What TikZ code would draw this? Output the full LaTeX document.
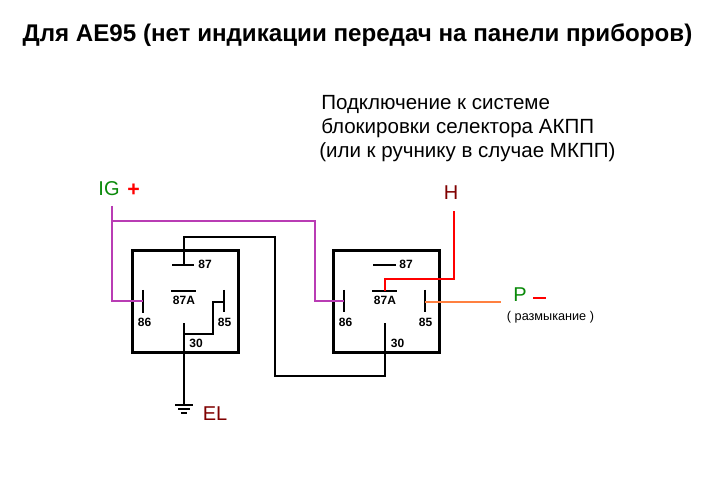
\documentclass[tikz,border=0pt]{standalone}
\usepackage{fontspec}
\setmainfont{Liberation Sans}
\definecolor{wirepurple}{HTML}{B93CB4}
\definecolor{wireorange}{HTML}{FF8040}
\definecolor{labelgreen}{HTML}{0A8A0A}
\definecolor{labelred}{HTML}{800000}
\tikzset{
    relaybox/.style={draw, line width=2.25pt, fill=none, minimum width=79.5pt, minimum height=75.75pt, inner sep=0pt},
    pinbar/.style={line width=1.5pt},
    wire/.style={line width=1.5pt},
    pinlabel/.style={font=\fontsize{9}{9}\selectfont\bfseries, inner sep=0pt},
    biglabel/.style={font=\fontsize{15}{15}\selectfont, inner sep=0pt},
    notelabel/.style={font=\fontsize{15.4}{16}\selectfont, anchor=west, inner sep=0pt}
}
\begin{document}
\begin{tikzpicture}[x=0.75pt, y=-0.75pt]
    \useasboundingbox (0,0) rectangle (728,495);
    \fill[white] (0,0) rectangle (728,495);

    % Title and note
    \node[font=\fontsize{18.1}{18.1}\selectfont\bfseries, inner sep=0pt] (title) at (357.5,35) {Для AE95 (нет индикации передач на панели приборов)};
    \node[notelabel] (noteA) at (321,104) {Подключение к системе};
    \node[notelabel] (noteB) at (321,128) {блокировки селектора АКПП};
    \node[notelabel] (noteC) at (319,152) {(или к ручнику в случае МКПП)};

    % Left relay
    \node[relaybox] (relayL) at (185,301.5) {};
    \node[pinlabel] (labL87) at (205,264.5) {87};
    \node[pinlabel] (labL87A) at (184,300.5) {87A};
    \node[pinlabel] (labL86) at (144.5,322) {86};
    \node[pinlabel] (labL85) at (224.5,322) {85};
    \node[pinlabel] (labL30) at (196,343) {30};
    \coordinate (barL87a) at (172,265);
    \coordinate (barL87b) at (194,265);
    \coordinate (barL87Aa) at (171,291);
    \coordinate (barL87Ab) at (196,291);
    \coordinate (pinL86a) at (143,290);
    \coordinate (pinL86b) at (143,313);
    \coordinate (pinL85a) at (224,290);
    \coordinate (pinL85b) at (224,312);
    \coordinate (pinL87) at (184,265);
    \coordinate (pinL30) at (184,323);
    \draw[pinbar] (barL87a) -- (barL87b);
    \draw[pinbar] (barL87Aa) -- (barL87Ab);
    \draw[pinbar] (pinL86a) -- (pinL86b);
    \draw[pinbar] (pinL85a) -- (pinL85b);

    % Right relay
    \node[relaybox] (relayR) at (386,301.5) {};
    \node[pinlabel] (labR87) at (406,264.5) {87};
    \node[pinlabel] (labR87A) at (385,300.5) {87A};
    \node[pinlabel] (labR86) at (345.5,322) {86};
    \node[pinlabel] (labR85) at (425.5,322) {85};
    \node[pinlabel] (labR30) at (397.5,343) {30};
    \coordinate (barR87a) at (373,265);
    \coordinate (barR87b) at (396,265);
    \coordinate (barR87Aa) at (372,291);
    \coordinate (barR87Ab) at (397,291);
    \coordinate (pinR86a) at (344,290);
    \coordinate (pinR86b) at (344,312);
    \coordinate (pinR85a) at (425,290);
    \coordinate (pinR85b) at (425,312);
    \coordinate (pinR87A) at (385,291);
    \coordinate (pinR30) at (385,323);
    \draw[pinbar] (barR87a) -- (barR87b);
    \draw[pinbar] (barR87Aa) -- (barR87Ab);
    \draw[pinbar] (pinR86a) -- (pinR86b);
    \draw[pinbar] (pinR85a) -- (pinR85b);

    % Terminals
    \node[biglabel, text=labelgreen] (IG) at (109,189) {IG};
    \node[font=\fontsize{16}{16}\selectfont\bfseries, text=red, inner sep=0pt] (plus) at (133.5,190) {+};
    \node[biglabel, text=labelred] (H) at (451,193) {H};
    \node[biglabel, text=labelgreen] (P) at (520,295) {P};
    \node[biglabel, text=labelred] (EL) at (215,414) {EL};
    \node[font=\fontsize{9.5}{9.5}\selectfont, inner sep=0pt] (open) at (550.5,317) {( размыкание )};
    \coordinate (minusA) at (533,298);
    \coordinate (minusB) at (546,298);
    \draw[red, line width=1.9pt] (minusA) -- (minusB);
    \coordinate (igEnd) at (112,206);
    \coordinate (igTurn) at (112,301);
    \coordinate (igBranch) at (112,221);
    \coordinate (hEnd) at (454,211);
    \coordinate (pEnd) at (501,302);
    \coordinate (gndTop) at (184,405);

    % Purple wires
    \draw[wire, wirepurple] (igEnd) -- (igTurn) -- (143,301);
    \draw[wire, wirepurple] (igBranch) -| (315,301) -- (344,301);

    % Black wires
    \draw[wire] (pinL87) -- (184,237) -| (275,376) -| (pinR30);
    \draw[wire] (pinL30) -- (gndTop);
    \draw[wire] (184,334) -| (213,302) -- (224,302);

    % Red and orange wires
    \draw[wire, red] (pinR87A) |- (454,279) -- (hEnd);
    \draw[wire, wireorange] (425,302) -- (pEnd);

    % Ground
    \coordinate (gndA) at (175,405);
    \coordinate (gndB) at (193,405);
    \coordinate (gndC) at (178,409);
    \coordinate (gndD) at (190,409);
    \coordinate (gndE) at (181,413);
    \coordinate (gndF) at (187,413);
    \draw[line width=1pt] (gndA) -- (gndB);
    \draw[line width=1pt] (gndC) -- (gndD);
    \draw[line width=1pt] (gndE) -- (gndF);
\end{tikzpicture}
\end{document}
